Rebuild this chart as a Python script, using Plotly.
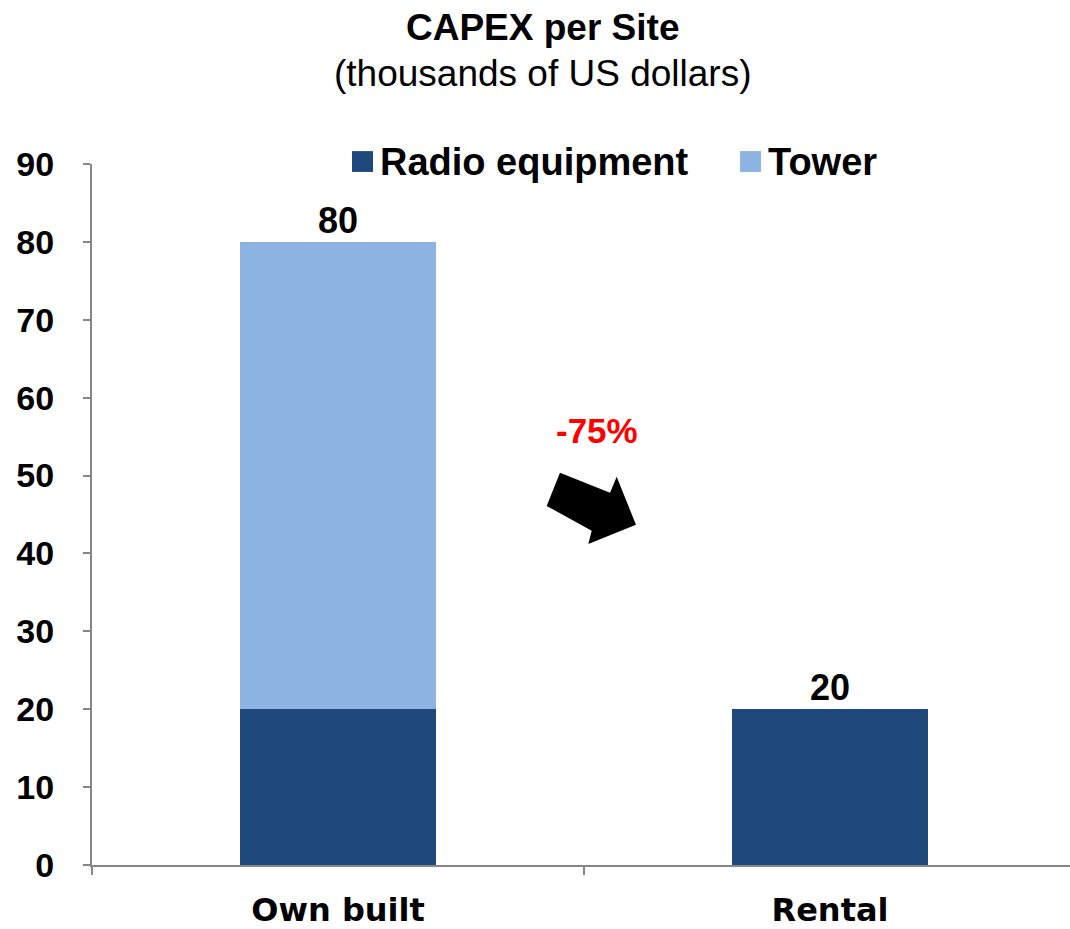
import plotly.graph_objects as go

# data
categories = ['Own built', 'Rental']
radio = [20, 20]
tower = [60, 0]
totals = [r + t for r, t in zip(radio, tower)]
change_label = '-75%'

C_RADIO = '#1F497D'
C_TOWER = '#8DB3E2'
AXIS = '#868686'
FONT = 'Liberation Sans, Arial, sans-serif'

W, H = 1070, 929
L, R, T, B = 92, 0, 164, 59


def px2paper(px, py):
    """pixel (page) -> paper coords of the plot area"""
    return (px - L) / (W - L - R), (H - B - py) / (H - T - B)


fig = go.Figure()
fig.add_trace(go.Bar(x=categories, y=radio, name='Radio equipment',
                     marker=dict(color=C_RADIO, line=dict(width=0)), width=0.4))
fig.add_trace(go.Bar(x=categories, y=tower, name='Tower',
                     marker=dict(color=C_TOWER, line=dict(width=0)), width=0.4))
fig.add_trace(go.Scatter(x=categories, y=totals, mode='text',
                         text=[str(v) for v in totals], textposition='top center',
                         textfont=dict(family=FONT, size=36, color='black', weight='bold'),
                         showlegend=False, cliponaxis=False, hoverinfo='skip'))

# block arrow (decoration)
pts = [(560, 475), (610, 495), (616.7, 479), (636, 527.3),
       (588.3, 546.7), (591.7, 533.3), (546.7, 508.3)]
pp = [px2paper(*p) for p in pts]
path = 'M ' + ' L '.join(f'{x:.4f},{y:.4f}' for x, y in pp) + ' Z'
shapes = [dict(type='path', xref='paper', yref='paper', path=path,
               fillcolor='black', line=dict(width=0))]

# manual legend
leg = [(352, C_RADIO, 'Radio equipment'), (740, C_TOWER, 'Tower')]
annotations = []
for x0, col, lbl in leg:
    xa, ya = px2paper(x0, 151)
    xb, yb = px2paper(x0 + 21, 172)
    shapes.append(dict(type='rect', xref='paper', yref='paper', x0=xa, x1=xb,
                       y0=yb, y1=ya, fillcolor=col, line=dict(width=0)))
    xt, yt = px2paper(x0 + 26, 162)
    annotations.append(dict(xref='paper', yref='paper', x=xt, y=yt, text=f'<b>{lbl}</b>',
                            xanchor='left', yanchor='middle', showarrow=False,
                            font=dict(family=FONT, size=38, color='black')))

xt, yt = px2paper(597, 432)
annotations.append(dict(xref='paper', yref='paper', x=xt, y=yt, text=f'<b>{change_label}</b>',
                        showarrow=False, xanchor='center', yanchor='middle',
                        font=dict(family=FONT, size=35, color='#FF0000')))

# title
annotations.append(dict(xref='paper', yref='paper', x=px2paper(542, 0)[0], y=px2paper(0, 27)[1],
                        text='<b>CAPEX per Site</b>', showarrow=False,
                        xanchor='center', yanchor='middle',
                        font=dict(family=FONT, size=37, color='black')))
annotations.append(dict(xref='paper', yref='paper', x=px2paper(542, 0)[0], y=px2paper(0, 73)[1],
                        text='(thousands of US dollars)', showarrow=False,
                        xanchor='center', yanchor='middle',
                        font=dict(family=FONT, size=37, color='black')))

fig.update_layout(
    barmode='stack', width=W, height=H, showlegend=False,
    margin=dict(l=L, r=R, t=T, b=B),
    plot_bgcolor='white', paper_bgcolor='white',
    shapes=shapes, annotations=annotations,
    bargap=0.6,
)
fig.update_yaxes(range=[0, 90], dtick=10, showgrid=False, zeroline=False,
                 showline=True, linecolor=AXIS, linewidth=2,
                 ticks='outside', ticklen=7, tickcolor=AXIS, tickwidth=2,
                 ticklabelstandoff=22,
                 tickfont=dict(family=FONT, size=34, color='black', weight='bold'))
fig.update_xaxes(range=[-0.5, -0.5 + (W - L - R) / 492], showgrid=False,
                 showline=True, linecolor=AXIS, linewidth=2,
                 ticks='outside', tickson='boundaries', ticklen=8, tickcolor=AXIS, tickwidth=2,
                 ticklabelstandoff=16,
                 tickfont=dict(family='DejaVu Sans, sans-serif', size=32, color='black', weight='bold'))

fig.write_html('out.html', config={'displayModeBar': False},
               post_script="document.body.style.margin='0px';")
